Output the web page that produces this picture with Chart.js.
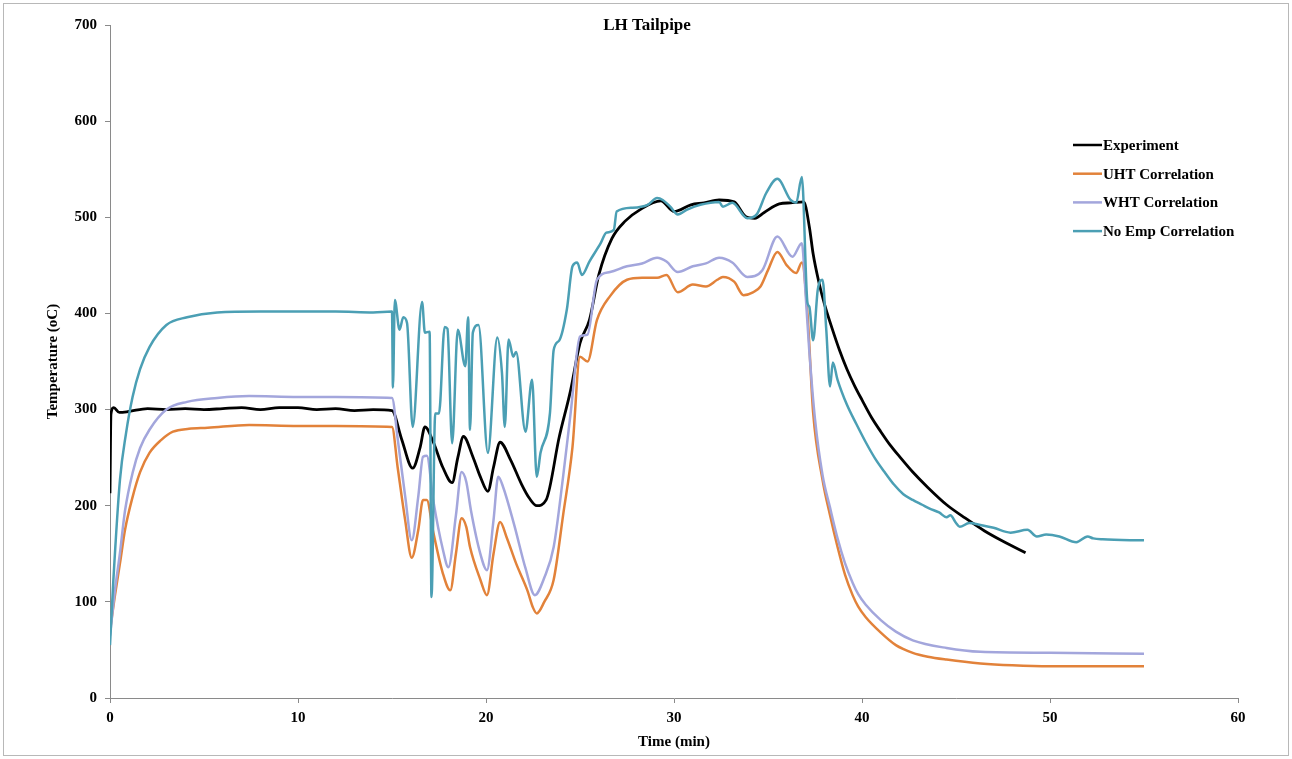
<!DOCTYPE html>
<html>
<head>
<meta charset="utf-8">
<script src="https://cdn.jsdelivr.net/npm/chart.js@4.4.0/dist/chart.umd.min.js"></script>
<style>
  body { margin: 0; background: #fff; }
  canvas { display: block; }
</style>
</head>
<body>
<canvas id="tailpipeChart" width="1292" height="759"></canvas>
<script>
// LH tailpipe temperature vs time
const chartTitle = 'LH Tailpipe';
const seriesNames = ['Experiment', 'UHT Correlation', 'WHT Correlation', 'No Emp Correlation'];
const xTicks = [0, 10, 20, 30, 40, 50, 60];
const yTicks = [0, 100, 200, 300, 400, 500, 600, 700];

const expTime = [
  0, 0.05, 0.2, 0.5, 1, 2, 3, 4, 5, 6,
  7, 8, 9, 10, 11, 12, 13, 14, 15, 15.5,
  16.1, 16.5, 16.75, 17.2, 17.7, 18.2, 18.5, 18.8, 19.3, 19.7,
  20.1, 20.4, 20.75, 21.3, 21.9, 22.3, 22.7, 23.2, 23.9, 24.5,
  25, 25.5, 26, 26.7, 27.4, 28.2, 29.3, 30, 30.9, 31.6,
  32.4, 33.2, 33.8, 34.3, 34.8, 35.6, 36.2, 36.9, 37.2, 37.4,
  37.7, 38, 38.4, 38.8, 39.2, 39.6, 40, 40.5, 41, 41.5,
  42, 42.7, 43.5, 44.5, 45.5, 46.5, 47.5, 48.7
];
const expTemp = [
  213, 295, 302, 297, 298, 301, 300, 301, 300, 301,
  302, 300, 302, 302, 300, 301, 299, 300, 299, 270,
  239, 261, 282, 266, 240, 224, 250, 272, 251, 230,
  215, 240, 266, 248, 222, 208, 200, 206, 272, 320,
  369, 393, 440, 478, 496, 508, 517, 506, 513, 515,
  518, 516, 501, 499, 505, 514, 515, 516, 490, 462,
  433, 410, 385, 362, 342, 325, 310, 292, 277, 263,
  251, 235, 219, 201, 187, 174, 163, 151
];

const uhtTime = [
  0, 0.25, 0.53, 0.8, 1.2, 1.6, 2.1, 2.7, 3.35, 4.2,
  5.2, 7.4, 10, 12, 15, 15.3, 15.7, 16.05, 16.4, 16.65,
  16.85, 17.2, 17.7, 18.1, 18.4, 18.7, 18.95, 19.15, 19.7, 20.05,
  20.4, 20.75, 21.1, 21.6, 22.2, 22.5, 22.7, 23.1, 23.6, 24.1,
  24.6, 25, 25.4, 25.9, 26.6, 27.5, 28.3, 29.1, 29.6, 30.2,
  31, 31.7, 32.3, 32.6, 33.2, 33.7, 34.2, 34.6, 35, 35.5,
  36, 36.5, 36.8, 37.1, 37.4, 37.9, 38.3, 38.7, 39.1, 39.5,
  39.8, 40.2, 41, 41.8, 42.7, 43.5, 44.5, 46.3, 48, 50,
  52, 55
];
const uhtTemp = [
  70, 105, 140, 175, 209, 235, 255, 268, 277, 280,
  281, 284, 283, 283, 282, 240, 185, 146, 175, 206,
  206, 172, 130, 112, 150, 187, 178, 157, 123, 107,
  150, 183, 167, 140, 112, 94, 88, 100, 123, 190,
  261, 355, 350, 393, 418, 435, 437, 437, 440, 422,
  430, 428, 435, 438, 433, 419, 422, 428, 445, 464,
  450, 442, 453, 400, 297, 227, 190, 157, 128, 107,
  95, 84, 68, 55, 47, 43, 40, 36, 34, 33,
  33, 33
];

const whtTime = [
  0, 0.25, 0.53, 0.8, 1.2, 1.6, 2.1, 3, 4.1, 5.7,
  7.4, 10, 12, 15, 15.3, 15.7, 16.05, 16.4, 16.65, 16.85,
  17.2, 17.7, 18, 18.4, 18.7, 18.95, 19.2, 19.7, 20.05, 20.4,
  20.65, 20.9, 21.5, 22.1, 22.6, 23.1, 23.6, 24.1, 24.5, 25,
  25.4, 25.9, 26.6, 27.5, 28.3, 29.1, 29.6, 30.2, 31, 31.7,
  32.4, 33.1, 33.9, 34.7, 35.5, 36.3, 36.8, 37, 37.2, 37.5,
  37.9, 38.3, 38.7, 39.1, 39.5, 39.8, 40.2, 41, 41.8, 42.7,
  44.5, 46.3, 50, 55
];
const whtTemp = [
  65, 110, 151, 195, 234, 260, 279, 300, 308, 312,
  314, 313, 313, 312, 270, 210, 164, 210, 251, 252,
  205, 155, 136, 190, 235, 225, 195, 150, 133, 185,
  230, 220, 180, 135, 107, 125, 157, 230, 296, 376,
  378, 435, 443, 449, 452, 458, 454, 443, 449, 452,
  458, 453, 438, 445, 480, 459, 473, 420, 360, 290,
  232, 198, 166, 140, 120, 108, 97, 81, 69, 60,
  52, 48, 47, 46
];

const noEmpTime = [
  0, 0.18, 0.53, 0.85, 1.2, 1.6, 2.1, 3, 4.1, 5.7,
  8, 10, 12, 14, 15, 15.05, 15.15, 15.4, 15.6, 15.8,
  16.1, 16.6, 16.75, 17, 17.1, 17.3, 17.5, 17.8, 17.95, 18.2,
  18.5, 18.9, 19.05, 19.15, 19.3, 19.6, 20.1, 20.6, 20.85, 21,
  21.2, 21.45, 21.6, 22.1, 22.45, 22.7, 22.9, 23.4, 23.6, 23.9,
  24.3, 24.6, 24.85, 25.1, 25.5, 26.1, 26.4, 26.8, 26.95, 27.8,
  28.6, 29.1, 29.4, 29.8, 30.2, 30.7, 31.4, 32.4, 32.6, 33.1,
  33.9, 34.4, 34.9, 35.5, 36.2, 36.5, 36.8, 37.1, 37.2, 37.4,
  37.65, 37.9, 38.1, 38.3, 38.45, 38.7, 39.2, 39.7, 40.2, 40.7,
  41.2, 41.7, 42.2, 42.7, 43.2, 43.6, 44.1, 44.5, 44.7, 45,
  45.2, 45.7, 46.3, 47, 47.9, 48.8, 49.3, 49.8, 50.5, 51.4,
  52, 52.3, 52.8, 55
];
const noEmpTemp = [
  55, 123, 227, 275, 313, 342, 365, 388, 396, 401,
  402, 402, 402, 401, 402, 323, 414, 383, 396, 390,
  282, 412, 380, 381, 105, 296, 296, 386, 384, 265,
  383, 345, 396, 279, 380, 388, 255, 375, 338, 282,
  373, 355, 360, 277, 331, 230, 255, 296, 362, 372,
  404, 449, 453, 440, 454, 473, 484, 487, 506, 510,
  513, 520, 518, 511, 503, 508, 513, 516, 511, 515,
  499, 503, 525, 540, 518, 515, 542, 411, 407, 372,
  425, 435, 383, 324, 349, 331, 305, 285, 266, 249,
  235, 222, 212, 206, 201, 197, 193, 188, 190, 182,
  178, 182, 180, 177, 172, 175, 168, 170, 168, 162,
  168, 166, 165, 164
];

const serif = '"Liberation Serif", "Times New Roman", serif';

function toPoints(xs, ys) {
  return xs.map((x, i) => ({ x: x, y: ys[i] }));
}

function makeSet(name, xs, ys, color, width, order) {
  return {
    label: name,
    data: toPoints(xs, ys),
    borderColor: color,
    backgroundColor: color,
    borderWidth: width,
    pointRadius: 0,
    fill: false,
    cubicInterpolationMode: 'monotone',
    order: order
  };
}

// title + legend drawn inside the plot area, like the original
const overlay = {
  id: 'overlay',
  afterDraw(chart) {
    const ctx = chart.ctx;
    ctx.save();
    ctx.strokeStyle = '#b8b8b8';
    ctx.lineWidth = 1;
    ctx.strokeRect(3.5, 3.5, chart.width - 7, chart.height - 7);

    ctx.fillStyle = '#000';
    ctx.font = 'bold 17px ' + serif;
    ctx.textAlign = 'center';
    ctx.textBaseline = 'middle';
    ctx.fillText(chartTitle, 647, 26);

    ctx.font = 'bold 15px ' + serif;
    ctx.textAlign = 'left';
    chart.data.datasets.forEach((ds, i) => {
      const y = 145 + i * 28.7;
      ctx.strokeStyle = ds.borderColor;
      ctx.lineWidth = 2.5;
      ctx.beginPath();
      ctx.moveTo(1073, y);
      ctx.lineTo(1102, y);
      ctx.stroke();
      ctx.fillStyle = '#000';
      ctx.fillText(ds.label, 1103, y + 1);
    });
    ctx.restore();
  }
};

const ctx = document.getElementById('tailpipeChart').getContext('2d');
const tailpipeChart = new Chart(ctx, {
  type: 'line',
  data: {
    datasets: [
      makeSet(seriesNames[0], expTime, expTemp, '#000000', 2.8, 4),
      makeSet(seriesNames[1], uhtTime, uhtTemp, '#e2823a', 2.5, 3),
      makeSet(seriesNames[2], whtTime, whtTemp, '#a3a6dc', 2.5, 2),
      makeSet(seriesNames[3], noEmpTime, noEmpTemp, '#4b9fb4', 2.5, 1)
    ]
  },
  options: {
    responsive: false,
    animation: false,
    layout: { padding: { left: 0, right: 54, top: 25, bottom: 0 } },
    plugins: {
      legend: { display: false },
      title: { display: false },
      tooltip: { enabled: false }
    },
    scales: {
      x: {
        type: 'linear',
        min: xTicks[0],
        max: xTicks[xTicks.length - 1],
        afterBuildTicks: s => { s.ticks = xTicks.map(v => ({ value: v })); },
        afterFit: s => { s.height = 61; },
        ticks: { color: '#000', font: { family: serif, size: 15, weight: 'bold' }, padding: 6, maxRotation: 0 },
        grid: { drawOnChartArea: false, tickLength: 5, color: '#8a8a8a' },
        border: { color: '#8a8a8a', width: 1 },
        title: {
          display: true,
          text: 'Time (min)',
          color: '#000',
          font: { family: serif, size: 15, weight: 'bold' },
          padding: { top: 4, bottom: 8 }
        }
      },
      y: {
        min: yTicks[0],
        max: yTicks[yTicks.length - 1],
        afterBuildTicks: s => { s.ticks = yTicks.map(v => ({ value: v })); },
        afterFit: s => { s.width = 110; },
        ticks: { color: '#000', font: { family: serif, size: 15, weight: 'bold' }, padding: 8 },
        grid: { drawOnChartArea: false, tickLength: 5, color: '#8a8a8a' },
        border: { color: '#8a8a8a', width: 1 },
        title: {
          display: true,
          text: 'Temperature (oC)',
          color: '#000',
          font: { family: serif, size: 15, weight: 'bold' },
          padding: { top: 44, bottom: 0 }
        }
      }
    }
  },
  plugins: [overlay]
});
</script>
</body>
</html>
